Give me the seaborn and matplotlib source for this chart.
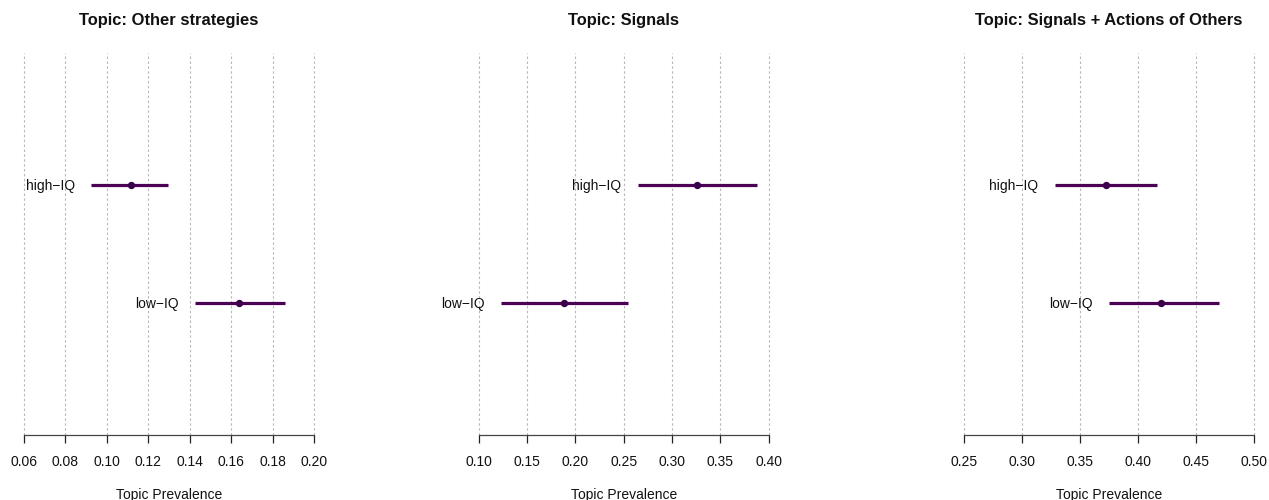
import matplotlib
matplotlib.use("Agg")
import matplotlib.pyplot as plt
import seaborn as sns
import numpy as np
import pandas as pd

# ---- data ----
topics = ["Topic: Other strategies", "Topic: Signals", "Topic: Signals + Actions of Others"]
groups = ["high\u2212IQ", "low\u2212IQ"]
group_pos = [2, 1]

est_other = [0.1115, 0.1638]
lo_other = [0.0925, 0.1426]
hi_other = [0.1295, 0.1860]

est_signals = [0.3257, 0.1883]
lo_signals = [0.2646, 0.1228]
hi_signals = [0.3884, 0.2542]

est_sao = [0.3724, 0.4204]
lo_sao = [0.3287, 0.3753]
hi_sao = [0.4169, 0.4701]

ticks_other = [0.06, 0.08, 0.10, 0.12, 0.14, 0.16, 0.18, 0.20]
ticks_signals = [0.10, 0.15, 0.20, 0.25, 0.30, 0.35, 0.40]
ticks_sao = [0.25, 0.30, 0.35, 0.40, 0.45, 0.50]
xlabel = "Topic Prevalence"

# ---- style ----
sns.set_theme(style="white")
plt.rcParams["font.family"] = ["Liberation Sans", "DejaVu Sans"]

W, H = 1269, 500
fig = plt.figure(figsize=(W / 100, H / 100), dpi=100)

panels = [
    (topics[0], est_other, lo_other, hi_other, ticks_other, "%.2f", 24.0),
    (topics[1], est_signals, lo_signals, hi_signals, ticks_signals, "%.2f", 478.7),
    (topics[2], est_sao, lo_sao, hi_sao, ticks_sao, "%.2f", 963.7),
]

line_col = "#4B0055"
pt_col = "#3B0049"
ax_top, ax_bot = 53, 435
span = 290
fs = 10.0

for title, est, lo, hi, ticks, fmt, left_px in panels:
    ax = fig.add_axes([left_px / W, (H - ax_bot) / H, span / W, (ax_bot - ax_top) / H])
    df = pd.DataFrame({"group": groups, "pos": group_pos, "est": est, "lo": lo, "hi": hi})
    ax.set_xlim(ticks[0], ticks[-1])
    ax.set_ylim(-0.12, 3.12)
    for t in ticks:
        ax.axvline(t, color="#B8B8B8", lw=0.8, ls=(0, (2.2, 2.2)), zorder=0, clip_on=False)
    ax.hlines(df["pos"], df["lo"], df["hi"], color=line_col, lw=2.3, zorder=2)
    sns.scatterplot(data=df, x="est", y="pos", ax=ax, color=pt_col, s=28,
                    edgecolor=None, linewidth=0, zorder=3, legend=False)
    for _, r in df.iterrows():
        ax.annotate(r["group"], xy=(r["lo"], r["pos"]), xytext=(-11.8, -3.6),
                    textcoords="offset points", ha="right", va="baseline",
                    fontsize=fs, color="#111111", annotation_clip=False)
    for s in ["top", "right", "left"]:
        ax.spines[s].set_visible(False)
    ax.spines["bottom"].set_color("#444444")
    ax.spines["bottom"].set_linewidth(0.9)
    ax.spines["bottom"].set_zorder(4)
    ax.set_yticks([])
    ax.set_xticks(ticks)
    ax.set_xticklabels([fmt % t for t in ticks])
    ax.tick_params(axis="x", direction="out", length=5.8, width=0.9, color="#222222",
                   labelsize=fs, pad=8.5, labelcolor="#111111", bottom=True)
    ax.set_xlabel(xlabel, fontsize=fs, labelpad=14, color="#111111")
    ax.set_ylabel("")
    ax.patch.set_alpha(0)
    fig.text((left_px + span / 2) / W, 1 - 20.7 / H, title, ha="center", va="center",
             fontsize=11.9, fontweight="bold", color="#111111")

fig.savefig("out.png", dpi=100, facecolor="white")
